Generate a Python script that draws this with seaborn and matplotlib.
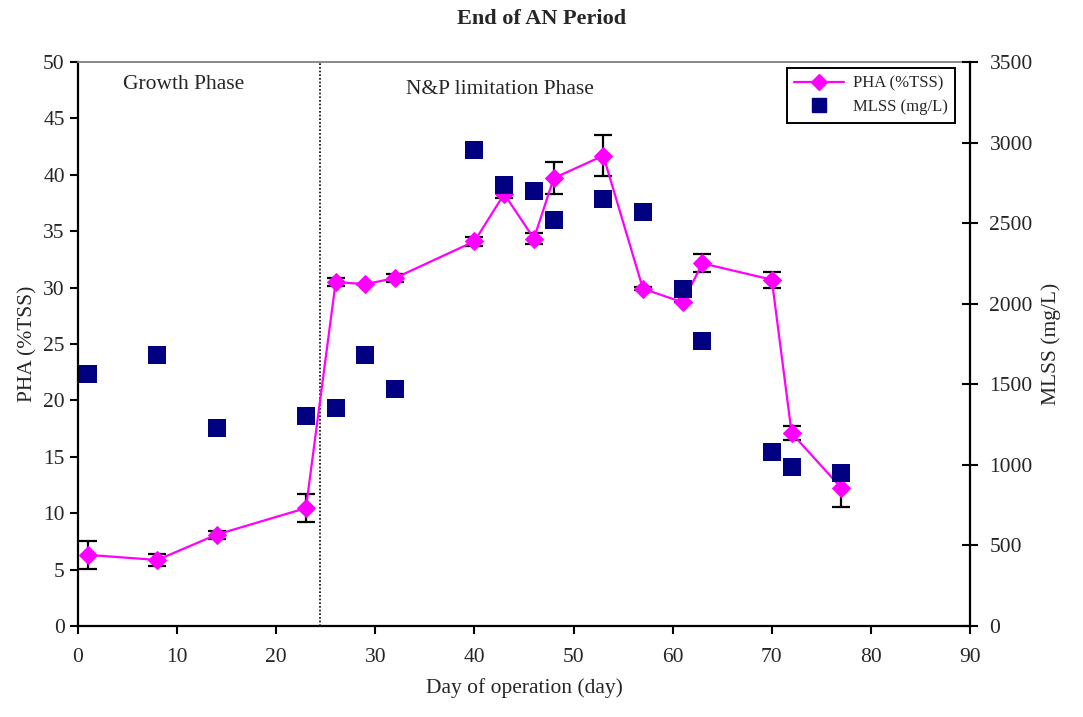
import matplotlib
matplotlib.use("Agg")
import matplotlib.pyplot as plt
import seaborn as sns
import pandas as pd
from matplotlib.lines import Line2D

sns.set_theme(style="white")
plt.rcParams["font.family"] = ["Liberation Serif", "DejaVu Serif"]

# PHA content at the end of the anaerobic period
pha_day = [1, 8, 14, 23, 26, 29, 32, 40, 43, 46, 48, 53, 57, 61, 63, 70, 72, 77]
pha_val = [6.3, 5.85, 8.1, 10.45, 30.5, 30.3, 30.85, 34.1, 38.3, 34.35, 39.7, 41.7,
           29.9, 28.7, 32.15, 30.7, 17.1, 12.25]
pha_err = [1.25, 0.55, 0.35, 1.25, 0.35, 0.0, 0.35, 0.4, 0.4, 0.5, 1.4, 1.8,
           0.15, 0.0, 0.8, 0.7, 0.65, 1.7]

# Mixed liquor suspended solids
mlss_day = [1, 8, 14, 23, 26, 29, 32, 40, 43, 46, 48, 53, 57, 61, 63, 70, 72, 77]
mlss_val = [1565, 1680, 1230, 1300, 1355, 1684, 1471, 2955, 2735, 2702, 2522, 2650,
            2570, 2092, 1768, 1080, 989, 952]

x_ticks = list(range(0, 91, 10))
pha_ticks = list(range(0, 51, 5))
mlss_ticks = list(range(0, 3501, 500))

pha_df = pd.DataFrame({"day": pha_day, "pha": pha_val, "err": pha_err})
mlss_df = pd.DataFrame({"day": mlss_day, "mlss": mlss_val})

fig = plt.figure(figsize=(10.83, 7.17), dpi=100)
ax = fig.add_axes([0.072, 0.127, 0.8237, 0.7865])

magenta = "#FF00FF"
navy = "#000080"
fs = 15.5

sns.lineplot(data=pha_df, x="day", y="pha", ax=ax, color=magenta, lw=1.6,
             marker="D", markersize=9, markeredgecolor=magenta, zorder=3)
ax.errorbar(pha_df["day"], pha_df["pha"], yerr=pha_df["err"], fmt="none",
            ecolor="black", elinewidth=1.6, capsize=6.5, capthick=1.6, zorder=2)

ax.axvline(24.4, color="black", ls=(0, (1, 1.2)), lw=1.2, zorder=1)

ax.set_xlim(0, 90)
ax.set_ylim(0, 50)
ax.set_xticks(x_ticks)
ax.set_yticks(pha_ticks)
ax.set_xlabel("Day of operation (day)", fontsize=fs, labelpad=8)
ax.set_ylabel("PHA (%TSS)", fontsize=fs, labelpad=4)
ax.tick_params(axis="both", which="major", labelsize=fs, direction="out",
               length=6, width=1.5, color="black", left=True, bottom=True)
ax.tick_params(axis="x", pad=10)

for side in ["left", "bottom"]:
    ax.spines[side].set_color("black")
    ax.spines[side].set_linewidth(1.6)
ax.spines["top"].set_color("#808080")
ax.spines["top"].set_linewidth(1.3)
ax.spines["right"].set_visible(False)

ax.text(10.7, 48.0, "Growth Phase", fontsize=fs, ha="center", va="center")
ax.text(42.6, 47.6, "N&P limitation Phase", fontsize=fs, ha="center", va="center")

ax2 = ax.twinx()
sns.scatterplot(data=mlss_df, x="day", y="mlss", ax=ax2, color=navy, marker="s",
                s=150, edgecolor=navy, linewidth=0, zorder=4)
ax2.set_ylim(0, 3500)
ax2.set_yticks(mlss_ticks)
ax2.set_ylabel("MLSS (mg/L)", fontsize=fs, labelpad=6)
ax2.tick_params(axis="y", labelsize=fs, direction="inout", length=12, width=1.5,
                color="black", right=True, pad=8)
ax2.spines["right"].set_color("black")
ax2.spines["right"].set_linewidth(1.6)
for side in ["left", "top", "bottom"]:
    ax2.spines[side].set_visible(False)

fig.suptitle("End of AN Period", fontsize=16, fontweight="bold", y=0.988)

handles = [
    Line2D([], [], color=magenta, lw=1.6, marker="D", markersize=8,
           markeredgecolor=magenta),
    Line2D([], [], color=navy, lw=0, marker="s", markersize=10),
]
leg = ax2.legend(handles, ["PHA (%TSS)", "MLSS (mg/L)"], loc="upper right",
                 bbox_to_anchor=(0.983, 0.989), borderaxespad=0, fontsize=12,
                 frameon=True, fancybox=False, edgecolor="black", framealpha=1,
                 handlelength=3.0, handletextpad=0.5, borderpad=0.45,
                 labelspacing=0.45)
leg.get_frame().set_linewidth(1.4)

fig.savefig("out.png", dpi=100)
